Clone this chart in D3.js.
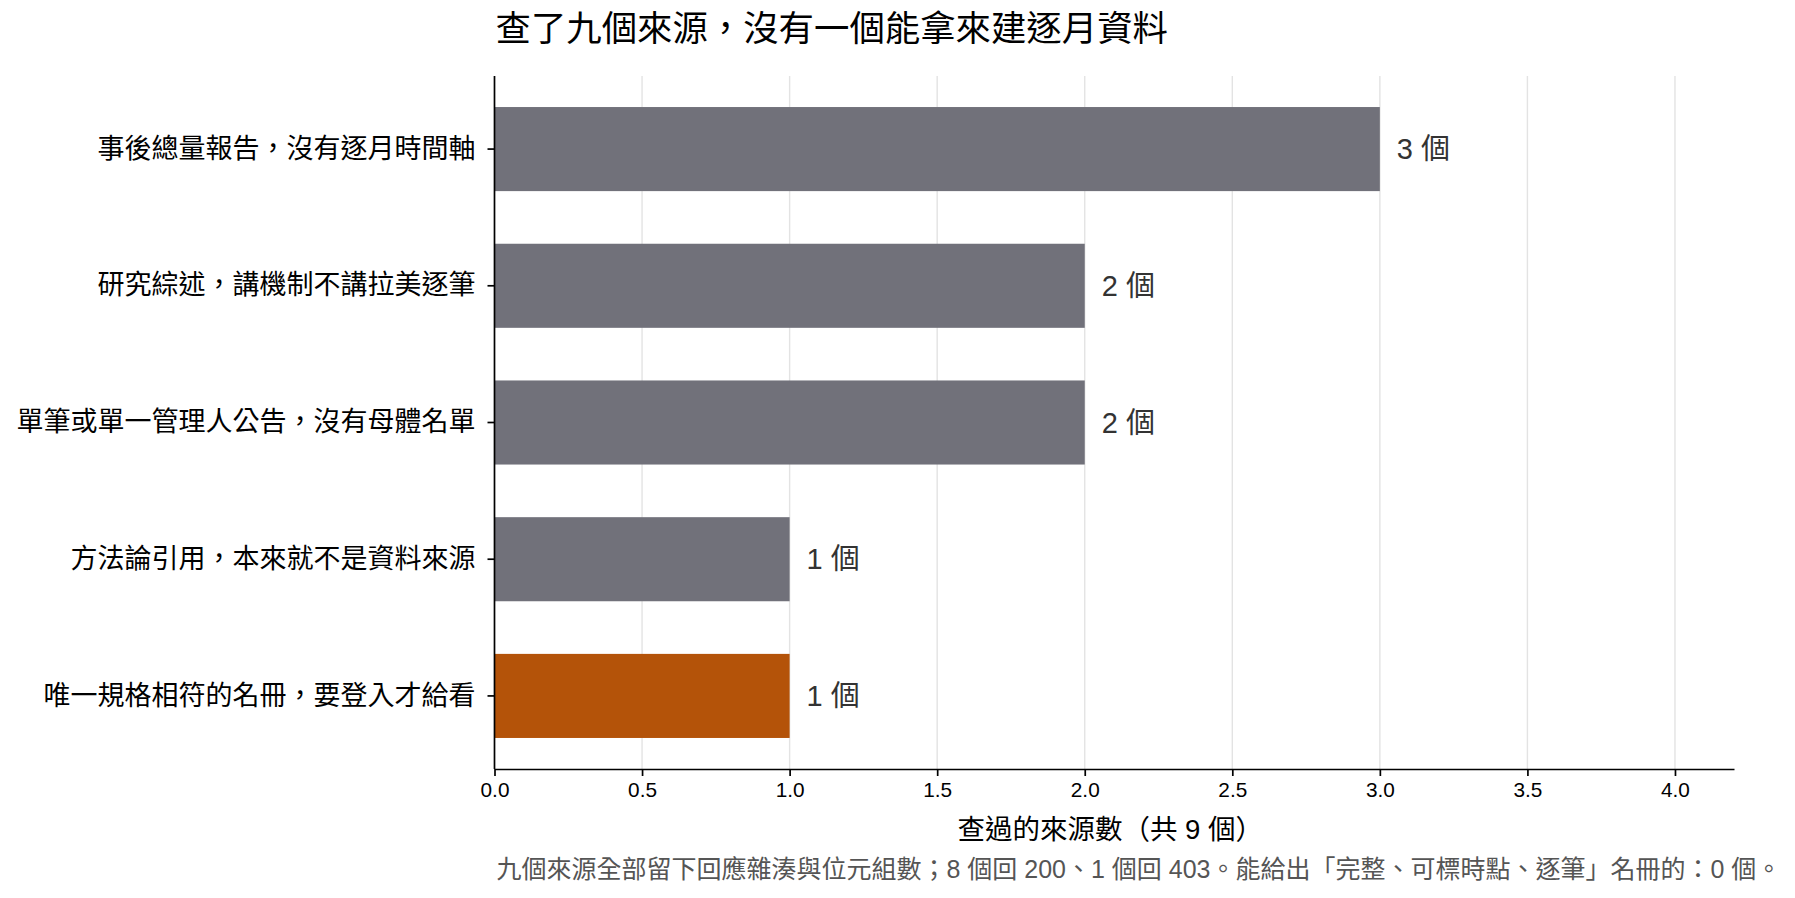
<!DOCTYPE html>
<html>
<head>
<meta charset="utf-8">
<script src="https://cdn.jsdelivr.net/npm/d3@7"></script>
<style>
  body { margin: 0; background: #fff; }
  svg text { font-family: "Liberation Sans", "Noto Sans CJK TC", sans-serif; }
</style>
</head>
<body>
<div id="chart"></div>
<script>
// données
const categories = [
  "事後總量報告，沒有逐月時間軸",
  "研究綜述，講機制不講拉美逐筆",
  "單筆或單一管理人公告，沒有母體名單",
  "方法論引用，本來就不是資料來源",
  "唯一規格相符的名冊，要登入才給看"
];
const counts = [3, 2, 2, 1, 1];
const highlight = [false, false, false, false, true];
const xTicks = [0, 0.5, 1, 1.5, 2, 2.5, 3, 3.5, 4];

const width = 1795, height = 898;
const plotLeft = 494.5, plotRight = 1734, plotTop = 76, plotBottom = 769;

const svg = d3.select('#chart').append('svg')
    .attr('width', width)
    .attr('height', height);

const x = d3.scaleLinear().domain([0, 4.2]).range([plotLeft, plotRight]);
const y = d3.scaleBand().domain(categories).range([plotTop, plotBottom])
    .paddingInner(0.385).paddingOuter(0.227);

// grille
svg.append('g').selectAll('line')
    .data(xTicks.filter(d => d > 0))
    .enter().append('line')
    .attr('x1', d => x(d)).attr('x2', d => x(d))
    .attr('y1', plotTop).attr('y2', plotBottom)
    .attr('stroke', '#e3e3e3')
    .attr('stroke-width', 1.4);

// barres
svg.append('g').selectAll('rect')
    .data(categories)
    .enter().append('rect')
    .attr('x', x(0))
    .attr('y', d => y(d))
    .attr('width', (d, i) => x(counts[i]) - x(0))
    .attr('height', y.bandwidth())
    .attr('fill', (d, i) => highlight[i] ? '#b45309' : '#71717a');

// étiquettes des barres
svg.append('g').selectAll('text')
    .data(categories)
    .enter().append('text')
    .attr('x', (d, i) => x(counts[i]) + 17)
    .attr('y', d => y(d) + y.bandwidth() / 2)
    .attr('dominant-baseline', 'central')
    .attr('font-size', 29)
    .attr('fill', '#333')
    .text((d, i) => counts[i] + ' 個');

// axes
const xAxis = svg.append('g')
    .attr('transform', 'translate(0,' + plotBottom + ')')
    .call(d3.axisBottom(x).tickValues(xTicks).tickFormat(d3.format('.1f'))
        .tickSize(7).tickPadding(6).tickSizeOuter(0));
xAxis.select('.domain').attr('stroke', '#000').attr('stroke-width', 1.7);
xAxis.selectAll('.tick line').attr('stroke', '#000').attr('stroke-width', 1.7);
xAxis.selectAll('.tick text').attr('font-size', 20.8).attr('fill', '#000')
    .attr('font-family', '"Liberation Sans", "Noto Sans CJK TC", sans-serif');

const yAxis = svg.append('g')
    .attr('transform', 'translate(' + plotLeft + ',0)')
    .call(d3.axisLeft(y).tickSize(7).tickPadding(12).tickSizeOuter(0));
yAxis.select('.domain').attr('stroke', '#000').attr('stroke-width', 1.7)
    .attr('d', 'M0,' + plotTop + 'V' + plotBottom);
yAxis.selectAll('.tick line').attr('stroke', '#000').attr('stroke-width', 1.7);
yAxis.selectAll('.tick text').attr('font-size', 27).attr('fill', '#000')
    .attr('font-family', '"Noto Sans CJK TC", sans-serif');

// titre et textes
svg.append('text')
    .attr('x', plotLeft + 1)
    .attr('y', 29)
    .attr('dominant-baseline', 'central')
    .attr('font-size', 35.4)
    .attr('fill', '#000')
    .text('查了九個來源，沒有一個能拿來建逐月資料');

svg.append('text')
    .attr('x', (plotLeft + plotRight) / 2 - 4)
    .attr('y', 829)
    .attr('text-anchor', 'middle')
    .attr('dominant-baseline', 'central')
    .attr('font-size', 27.5)
    .attr('fill', '#000')
    .text('查過的來源數（共 9 個）');

svg.append('text')
    .attr('x', plotLeft + 2)
    .attr('y', 869)
    .attr('dominant-baseline', 'central')
    .attr('font-size', 25)
    .attr('fill', '#555')
    .text('九個來源全部留下回應雜湊與位元組數；8 個回 200、1 個回 403。能給出「完整、可標時點、逐筆」名冊的：0 個。');
</script>
</body>
</html>
